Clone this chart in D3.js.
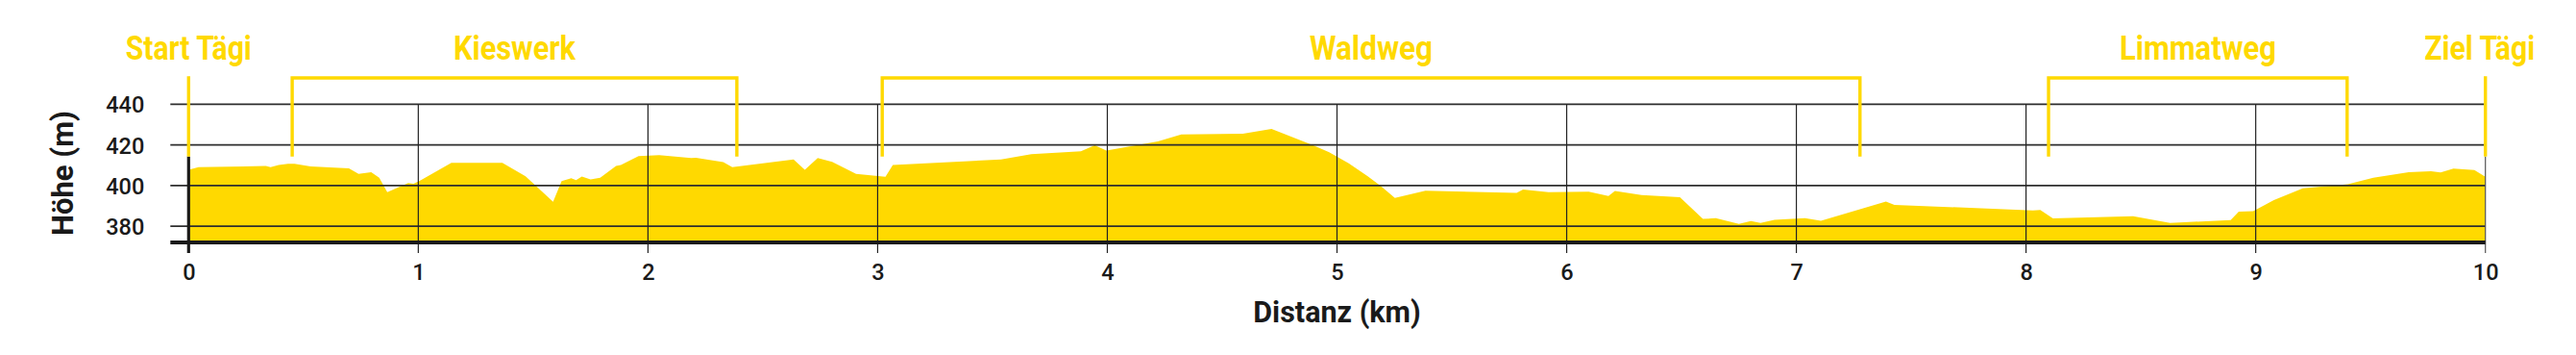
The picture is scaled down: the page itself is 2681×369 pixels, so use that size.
<html>
    <head>
        <meta charset="utf-8" />
        <title>Höhenprofil</title>
        <script src="https://d3js.org/d3.v7.min.js"></script>
        <style>
            body {
                margin: 0px;
                background: #ffffff;
            }
            .domain {
                display: none;
            }
            .tick text {
                fill: #1a1a1a;
                font-family: Roboto, "Liberation Sans", sans-serif;
                font-weight: 500;
                font-size: 23.5px;
            }
            .axis-label {
                fill: #1a1a1a;
                font-family: Roboto, "Liberation Sans", sans-serif;
                font-weight: bold;
            }
            .section-label {
                fill: #ffd900;
                font-family: Roboto, "Liberation Sans", sans-serif;
                font-weight: bold;
                font-size: 35px;
            }
        </style>
    </head>
    <body>
        <script type="text/javascript">
        // elevation profile, distance in km / height in m
        var distKm = [0, 0.043, 0.336, 0.357, 0.392, 0.433, 0.461, 0.531, 0.698, 0.740,
            0.795, 0.830, 0.865, 0.956, 0.979, 1.004, 1.144, 1.366, 1.467, 1.587,
            1.624, 1.666, 1.687, 1.712, 1.750, 1.792, 1.861, 1.882, 1.959, 2.049,
            2.188, 2.209, 2.328, 2.367, 2.634, 2.683, 2.739, 2.802, 2.906, 3.034,
            3.066, 3.537, 3.669, 3.885, 3.945, 3.996, 4.220, 4.322, 4.590, 4.715,
            4.896, 4.966, 5.051, 5.134, 5.190, 5.252, 5.385, 5.782, 5.810, 5.921,
            6.096, 6.182, 6.210, 6.326, 6.493, 6.593, 6.649, 6.750, 6.802, 6.844,
            6.905, 7.037, 7.107, 7.390, 7.427, 8.030, 8.062, 8.117, 8.466, 8.627,
            8.891, 8.926, 8.989, 9.079, 9.205, 9.401, 9.512, 9.666, 9.763, 9.805,
            9.861, 9.952, 10];
        var heightM = [407.7, 409.1, 409.6, 409.0, 410.1, 410.7, 410.7, 409.4, 408.5, 405.7,
            406.6, 403.8, 396.7, 401.3, 400.9, 402.2, 411.2, 411.2, 404.6, 392.0,
            402.2, 403.6, 402.7, 404.4, 403.0, 403.8, 409.6, 410.1, 414.5, 415.0,
            413.5, 413.7, 411.5, 409.1, 412.9, 407.7, 413.5, 411.7, 405.7, 404.3,
            410.1, 412.9, 415.4, 416.9, 419.8, 417.2, 421.7, 425.2, 425.5, 427.9,
            419.8, 416.4, 410.9, 404.6, 399.8, 393.9, 397.5, 396.4, 398.0, 396.8,
            397.0, 394.8, 397.3, 395.3, 394.2, 383.6, 383.9, 381.1, 382.5, 381.6,
            383.1, 383.9, 382.7, 392.1, 390.5, 387.8, 388.0, 383.8, 384.9, 381.6,
            383.0, 387.2, 387.4, 392.8, 398.6, 400.6, 403.8, 406.6, 407.1, 406.5,
            408.3, 407.6, 404.3];

        // route sections (brackets above the profile)
        var sectionNames = ["Kieswerk", "Waldweg", "Limmatweg"];
        var sectionFrom = [0.451, 3.02, 8.098];
        var sectionTo = [2.387, 7.277, 9.398];

        // start / finish markers
        var markerNames = ["Start Tägi", "Ziel Tägi"];
        var markerKm = [0, 10];

        var xTicks = [0, 1, 2, 3, 4, 5, 6, 7, 8, 9, 10];
        var yTicks = [380, 400, 420, 440];

        var width = 2681;
        var height = 369;
        var margin = {top: 108.4, right: 94.3, bottom: 117, left: 196.3};
        var yellow = "#ffd900";
        var bracketTop = 453;
        var bracketBottom = 414.3;
        // the labels use a condensed face, squeeze them to its width
        var labelWidth = {"Start Tägi": 131, "Kieswerk": 127, "Waldweg": 128, "Limmatweg": 163, "Ziel Tägi": 115};

        var x = d3.scaleLinear()
            .domain([0, 10])
            .range([margin.left, width - margin.right]);

        var y = d3.scaleLinear()
            .domain([372, 440])
            .range([height - margin.bottom, margin.top]);

        var profile = distKm.map((d, i) => ({km: d, h: heightM[i]}));

        var svg = d3.select("body").append("svg")
            .attr("width", width)
            .attr("height", height)
            .style("display", "block");

        svg.append("rect")
            .attr("width", width)
            .attr("height", height)
            .attr("fill", "#ffffff");

        // profile area
        var area = d3.area()
            .x(d => x(d.km))
            .y0(y(372))
            .y1(d => y(d.h));

        svg.append("path")
            .datum(profile)
            .attr("d", area)
            .attr("fill", yellow);

        // horizontal grid
        svg.append("g")
            .selectAll("line")
            .data(yTicks)
            .enter()
            .append("line")
                .attr("x1", x(0) - 19)
                .attr("x2", x(10))
                .attr("y1", d => y(d))
                .attr("y2", d => y(d))
                .attr("stroke", "#2e2e2e")
                .attr("stroke-width", 1.7);

        // vertical grid (1..9 full height, 0 and 10 only below the markers)
        svg.append("g")
            .selectAll("line")
            .data(xTicks)
            .enter()
            .append("line")
                .attr("x1", d => x(d))
                .attr("x2", d => x(d))
                .attr("y1", d => (d == 0 || d == 10) ? y(bracketBottom) : y(440))
                .attr("y2", y(372) + 11)
                .attr("stroke", d => d == 0 ? "#1a1a1a" : (d == 10 ? "#555555" : "#222222"))
                .attr("stroke-width", d => d == 0 ? 3.2 : 1.2);

        // base line
        svg.append("line")
            .attr("x1", x(0) - 19)
            .attr("x2", x(10))
            .attr("y1", y(372))
            .attr("y2", y(372))
            .attr("stroke", "#1a1a1a")
            .attr("stroke-width", 4);

        // x axis labels
        svg.append("g")
            .attr("transform", "translate(0," + y(372) + ")")
            .call(d3.axisBottom(x).tickValues(xTicks).tickSize(0).tickPadding(22))
            .call(g => g.selectAll(".tick text").attr("dy", "0.71em"));

        // y axis labels
        svg.append("g")
            .attr("transform", "translate(" + x(0) + ",0)")
            .call(d3.axisLeft(y).tickValues(yTicks).tickSize(0).tickPadding(46))
            .call(g => g.selectAll(".tick text").attr("dy", "0.36em"));

        svg.append("text")
            .attr("class", "axis-label")
            .attr("x", (x(0) + x(10)) / 2)
            .attr("y", 335)
            .attr("text-anchor", "middle")
            .style("font-size", "30.5px")
            .text("Distanz (km)");

        svg.append("text")
            .attr("class", "axis-label")
            .attr("transform", "translate(75.7,180) rotate(-90)")
            .attr("text-anchor", "middle")
            .style("font-size", "31px")
            .text("Höhe (m)");

        // section brackets
        var sections = sectionNames.map((d, i) => ({name: d, from: sectionFrom[i], to: sectionTo[i]}));

        svg.append("g")
            .selectAll("path")
            .data(sections)
            .enter()
            .append("path")
                .attr("d", d => "M" + x(d.from) + "," + y(bracketBottom)
                    + "V" + y(bracketTop) + "H" + x(d.to) + "V" + y(bracketBottom))
                .attr("fill", "none")
                .attr("stroke", yellow)
                .attr("stroke-width", 3.4);

        svg.append("g")
            .selectAll("text")
            .data(sections)
            .enter()
            .append("text")
                .attr("class", "section-label")
                .attr("x", d => x((d.from + d.to) / 2))
                .attr("y", y(bracketTop) - 19.3)
                .attr("text-anchor", "middle")
                .attr("textLength", d => labelWidth[d.name])
                .attr("lengthAdjust", "spacingAndGlyphs")
                .text(d => d.name);

        // start / finish markers
        var markers = markerNames.map((d, i) => ({name: d, km: markerKm[i]}));

        svg.append("g")
            .selectAll("line")
            .data(markers)
            .enter()
            .append("line")
                .attr("x1", d => x(d.km))
                .attr("x2", d => x(d.km))
                .attr("y1", y(bracketTop) - 1.7)
                .attr("y2", y(bracketBottom))
                .attr("stroke", yellow)
                .attr("stroke-width", 3.4);

        svg.append("g")
            .selectAll("text")
            .data(markers)
            .enter()
            .append("text")
                .attr("class", "section-label")
                .attr("x", d => d.km == 10 ? x(d.km) - 6 : x(d.km))
                .attr("y", y(bracketTop) - 19.3)
                .attr("text-anchor", "middle")
                .attr("textLength", d => labelWidth[d.name])
                .attr("lengthAdjust", "spacingAndGlyphs")
                .text(d => d.name);
        </script>
    </body>
</html>
